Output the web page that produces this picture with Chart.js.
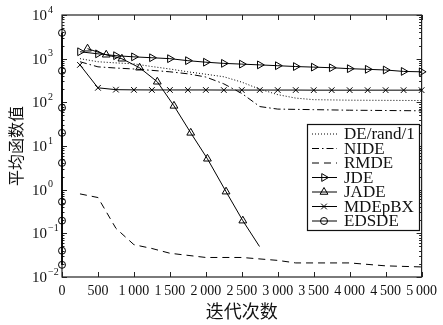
<!DOCTYPE html>
<html>
<head>
<meta charset="utf-8">
<script src="https://cdn.jsdelivr.net/npm/chart.js@4/dist/chart.umd.min.js"></script>
<style>
  html, body { margin: 0; padding: 0; background: #fff; }
</style>
</head>
<body>
<canvas id="chart" width="443" height="325"></canvas>
<script>
// 横轴刻度与纵轴的十进幂
const iterTicks = [0, 500, 1000, 1500, 2000, 2500, 3000, 3500, 4000, 4500, 5000];
const decadeExps = [-2, -1, 0, 1, 2, 3, 4];

const seriesNames = ['DE/rand/1', 'NIDE', 'RMDE', 'JDE', 'JADE', 'MDEpBX', 'EDSDE'];

const step250 = [250, 500, 750, 1000, 1250, 1500, 1750, 2000, 2250, 2500,
                 2750, 3000, 3250, 3500, 3750, 4000, 4250, 4500, 4750, 5000];

const deRandIters = [250, 500, 750, 1000, 1250, 1500, 1750, 2000, 2250, 2500, 2750, 3000, 3250, 3500, 4000, 5000];
const deRandVals  = [1000, 850, 800, 760, 660, 580, 500, 440, 385, 290, 200, 150, 125, 115, 112, 110];

const nideIters = [250, 500, 750, 1000, 1250, 1500, 1750, 2000, 2250, 2500, 2750, 3000, 3500, 4000, 5000];
const nideVals  = [850, 650, 610, 580, 540, 500, 450, 380, 265, 160, 80, 70, 68, 66, 64];

const rmdeIters = [250, 500, 750, 1000, 1250, 1500, 2000, 2500, 3000, 3250, 4000, 4500, 5000];
const rmdeVals  = [0.80, 0.66, 0.13, 0.055, 0.045, 0.035, 0.028, 0.028, 0.024, 0.021, 0.021, 0.018, 0.017];

const jdeVals = [1440, 1290, 1170, 1100, 1050, 1000, 900, 830, 780, 750,
                 720, 690, 660, 640, 620, 590, 570, 550, 510, 500];

const jadeIters = [355, 615, 833, 1079, 1325, 1557, 1790, 2022, 2281, 2514, 2746];
const jadeVals  = [1690, 1230, 995, 620, 296, 83, 20, 5.1, 0.9, 0.195, 0.05];

const mdeVals = [720, 215, 195, 193, 192, 192, 192, 192, 191, 191,
                 191, 191, 191, 190, 190, 190, 190, 190, 190, 190];

const edsdeIters = [0, 0, 0, 0, 0, 0, 0, 0, 0];
const edsdeVals  = [3900, 528, 75, 20, 4.1, 0.53, 0.195, 0.04, 0.019];

const pts = (xs, ys) => xs.map((v, i) => ({ x: v, y: ys[i] }));

const base = {
  borderColor: '#000',
  borderWidth: 1,
  pointBorderColor: '#000',
  pointBackgroundColor: 'rgba(0,0,0,0)',
  pointBorderWidth: 1,
  tension: 0,
  clip: false
};

const styles = [
  { borderDash: [1, 2], pointRadius: 0 },
  { borderDash: [7, 3, 1.5, 3], pointRadius: 0 },
  { borderDash: [7, 5], pointRadius: 0 },
  { pointStyle: 'triangle', pointRotation: 90, pointRadius: 4.5 },
  { pointStyle: 'triangle', pointRadius: jadeIters.map((v, i) => i === jadeIters.length - 1 ? 0 : 4.5) },
  { pointStyle: 'crossRot', pointRadius: 4 },
  { pointStyle: 'circle', pointRadius: 3.5 }
];

const dataSets = [
  pts(deRandIters, deRandVals),
  pts(nideIters, nideVals),
  pts(rmdeIters, rmdeVals),
  pts(step250, jdeVals),
  pts(jadeIters, jadeVals),
  pts(step250, mdeVals),
  pts(edsdeIters, edsdeVals)
];

function fmtIter(v) {
  if (v < 1000) return String(v);
  return Math.floor(v / 1000) + '\u2009' + String(v % 1000).padStart(3, '0');
}

function drawMarker(ctx, st, x, y) {
  if (!st.pointStyle) return;
  const r = 4.5;
  ctx.beginPath();
  if (st.pointStyle === 'circle') {
    ctx.arc(x, y, 3.5, 0, Math.PI * 2);
  } else if (st.pointStyle === 'crossRot') {
    const d = 4 * Math.SQRT1_2;
    ctx.moveTo(x - d, y - d); ctx.lineTo(x + d, y + d);
    ctx.moveTo(x - d, y + d); ctx.lineTo(x + d, y - d);
  } else if (st.pointRotation === 90) {
    ctx.moveTo(x + r, y);
    ctx.lineTo(x - r * 0.5, y - r * 0.866);
    ctx.lineTo(x - r * 0.5, y + r * 0.866);
    ctx.closePath();
  } else {
    ctx.moveTo(x, y - r);
    ctx.lineTo(x + r * 0.866, y + r * 0.5);
    ctx.lineTo(x - r * 0.866, y + r * 0.5);
    ctx.closePath();
  }
  ctx.stroke();
}

const framePlugin = {
  id: 'frame',
  beforeDatasetsDraw(chart) {
    const { ctx, chartArea: a, scales: { x, y } } = chart;
    ctx.save();
    ctx.strokeStyle = '#222';
    ctx.lineWidth = 1.2;
    ctx.strokeRect(a.left, a.top, a.right - a.left, a.bottom - a.top);
    ctx.lineWidth = 1;
    ctx.beginPath();
    iterTicks.forEach(v => {
      const px = Math.round(x.getPixelForValue(v)) + 0.5;
      ctx.moveTo(px, a.bottom); ctx.lineTo(px, a.bottom - 5);
      ctx.moveTo(px, a.top); ctx.lineTo(px, a.top + 5);
    });
    decadeExps.forEach(e => {
      const py = Math.round(y.getPixelForValue(Math.pow(10, e))) + 0.5;
      ctx.moveTo(a.left, py); ctx.lineTo(a.left + 5, py);
      ctx.moveTo(a.right, py); ctx.lineTo(a.right - 5, py);
      if (e < 4) {
        for (let m = 2; m <= 9; m++) {
          const q = Math.round(y.getPixelForValue(m * Math.pow(10, e))) + 0.5;
          ctx.moveTo(a.left, q); ctx.lineTo(a.left + 2.5, q);
          ctx.moveTo(a.right, q); ctx.lineTo(a.right - 2.5, q);
        }
      }
    });
    ctx.stroke();
    ctx.restore();
  },
  afterDraw(chart) {
    const { ctx, scales: { y } } = chart;
    ctx.save();
    ctx.fillStyle = '#111';
    // 纵轴刻度 10^n
    decadeExps.forEach(e => {
      const py = y.getPixelForValue(Math.pow(10, e));
      ctx.font = '15px "Liberation Serif"';
      ctx.textAlign = 'right';
      ctx.textBaseline = 'middle';
      ctx.fillText('10', 47, py + 1);
      ctx.font = '10px "Liberation Serif"';
      ctx.textAlign = 'left';
      ctx.fillText(e < 0 ? '\u2212' + (-e) : String(e), 48, py - 5);
    });
    // 图例
    const bx = 307, by = 124, bw = 112, bh = 106;
    ctx.fillStyle = '#fff';
    ctx.fillRect(bx, by, bw, bh);
    ctx.strokeStyle = '#111';
    ctx.lineWidth = 1.2;
    ctx.strokeRect(bx + 0.5, by + 0.5, bw, bh);
    ctx.fillStyle = '#111';
    ctx.font = '17px "Liberation Serif"';
    ctx.textAlign = 'left';
    ctx.textBaseline = 'middle';
    seriesNames.forEach((name, i) => {
      const ly = by + 10 + i * 14.5;
      const st = styles[i];
      ctx.lineWidth = 1;
      ctx.strokeStyle = '#000';
      ctx.setLineDash(st.borderDash || []);
      ctx.beginPath();
      ctx.moveTo(312, ly); ctx.lineTo(337, ly);
      ctx.stroke();
      ctx.setLineDash([]);
      drawMarker(ctx, st, 324, ly);
      ctx.fillText(name, 344, ly + 1);
    });
    ctx.restore();
  }
};

new Chart(document.getElementById('chart'), {
  type: 'line',
  data: {
    datasets: dataSets.map((d, i) => Object.assign({ label: seriesNames[i], data: d }, base, styles[i]))
  },
  options: {
    responsive: false,
    animation: false,
    devicePixelRatio: 1,
    layout: { padding: { left: 0, right: 15, top: 15, bottom: 0 } },
    plugins: { legend: { display: false }, tooltip: { enabled: false } },
    scales: {
      x: {
        type: 'linear',
        min: 0,
        max: 5000,
        afterBuildTicks: s => { s.ticks = iterTicks.map(v => ({ value: v })); },
        afterFit: s => { s.height = 48; },
        ticks: {
          autoSkip: false,
          maxRotation: 0,
          padding: 6,
          color: '#111',
          font: { family: 'Liberation Serif', size: 14 },
          callback: v => fmtIter(v)
        },
        grid: { display: false, drawTicks: false },
        border: { display: false },
        title: {
          display: true,
          text: '迭代次数',
          color: '#111',
          font: { family: 'Noto Sans CJK SC', size: 18 },
          padding: { top: 0, bottom: 3 }
        }
      },
      y: {
        type: 'logarithmic',
        min: 0.01,
        max: 10000,
        afterFit: s => { s.width = 62; },
        ticks: { display: false },
        grid: { display: false, drawTicks: false },
        border: { display: false },
        title: {
          display: true,
          text: '平均函数值',
          color: '#111',
          font: { family: 'Noto Sans CJK SC', size: 16 },
          padding: { top: 6, bottom: 0 }
        }
      }
    }
  },
  plugins: [framePlugin]
});
</script>
</body>
</html>
